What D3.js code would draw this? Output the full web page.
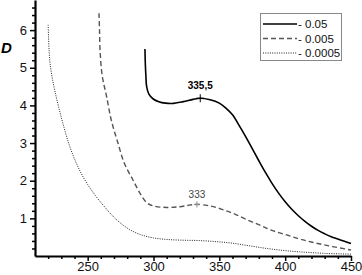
<!DOCTYPE html>
<html>
<head>
<meta charset="utf-8">
<script src="https://cdnjs.cloudflare.com/ajax/libs/d3/7.8.5/d3.min.js"></script>
<style>
  body { margin: 0; background: #fff; }
  svg { display: block; font-family: "Liberation Sans", Arial, sans-serif; }
</style>
</head>
<body>
<script>
// wavelength (nm) and optical density D
const solidX = [293.5, 293.8, 294.2, 294.8, 296.5, 299.8, 304, 309, 314, 322.6, 330, 335.5, 343, 350, 355, 360, 365, 370, 375, 380, 385, 390, 395, 400, 405, 410, 415, 420, 425, 430, 435, 440, 445, 450];
const solidY = [5.5, 5.1, 4.8, 4.5, 4.3, 4.17, 4.1, 4.06, 4.05, 4.1, 4.16, 4.19, 4.15, 4.06, 3.93, 3.75, 3.47, 3.17, 2.85, 2.53, 2.22, 1.93, 1.67, 1.44, 1.24, 1.07, 0.92, 0.79, 0.68, 0.59, 0.51, 0.45, 0.39, 0.33];

const dashX = [258.6, 259, 259.4, 261, 264.4, 268, 273, 278, 284.4, 290, 294.8, 300, 310, 320, 327, 333, 343, 352, 360.6, 370, 380.8, 390, 401.1, 412, 423.9, 436, 450];
const dashY = [6.45, 6.0, 5.47, 4.8, 4.23, 3.6, 3.0, 2.45, 2.02, 1.65, 1.42, 1.33, 1.29, 1.31, 1.35, 1.37, 1.33, 1.24, 1.13, 0.98, 0.82, 0.68, 0.56, 0.44, 0.34, 0.25, 0.16];

const dotX = [220, 220.3, 220.8, 221.5, 223, 225, 228, 232, 236, 240, 245, 250, 256, 262, 268, 274, 282, 290, 300, 310, 322, 335, 348, 360, 373, 386, 398, 411, 430, 450];
const dotY = [6.14, 5.8, 5.4, 5.1, 4.75, 4.4, 3.95, 3.42, 2.95, 2.58, 2.2, 1.9, 1.6, 1.34, 1.1, 0.9, 0.7, 0.57, 0.48, 0.44, 0.42, 0.41, 0.38, 0.34, 0.27, 0.2, 0.15, 0.11, 0.07, 0.05];

const legendLabels = ["- 0.05", "- 0.005", "- 0.0005"];
const xMajor = [250, 300, 350, 400, 450];
const yMajor = [1, 2, 3, 4, 5, 6];
const peaks = [{x: 335.5, y: 4.19, label: "335,5"}, {x: 333, y: 1.37, label: "333"}];

const w = 362, h = 275;
const svg = d3.select("body").append("svg").attr("width", w).attr("height", h);

const x = d3.scaleLinear().domain([210, 450]).range([35, 351]);
const y = d3.scaleLinear().domain([0, 6.8]).range([256, 0]);

// minor ticks
const xMinor = d3.range(220, 451, 10).filter(v => v % 50 !== 0);
const yMinor = d3.range(1, 34).map(i => +(i * 0.2).toFixed(1)).filter(v => v % 1 !== 0);

svg.append("g")
  .attr("transform", "translate(0,256)")
  .call(d3.axisBottom(x).tickValues(xMinor).tickSize(3).tickSizeOuter(0).tickFormat(""))
  .call(g => g.select(".domain").remove())
  .selectAll("line").attr("stroke-width", 1.5);

svg.append("g")
  .attr("transform", "translate(35,0)")
  .call(d3.axisLeft(y).tickValues(yMinor).tickSize(3).tickSizeOuter(0).tickFormat(""))
  .call(g => g.select(".domain").remove())
  .selectAll("line").attr("stroke-width", 1.5);

const xAxis = svg.append("g")
  .attr("id", "x-axis")
  .attr("transform", "translate(0,256)")
  .call(d3.axisBottom(x).tickValues(xMajor).tickSize(5).tickSizeOuter(0).tickPadding(1).tickFormat(d3.format("d")));
xAxis.select(".domain").attr("stroke-width", 2.2);
xAxis.selectAll("line").attr("stroke-width", 1.5);
xAxis.selectAll("text").attr("font-size", 13).attr("fill", "#111").attr("font-family", "Liberation Sans, Arial");

const yAxis = svg.append("g")
  .attr("id", "y-axis")
  .attr("transform", "translate(35,0)")
  .call(d3.axisLeft(y).tickValues(yMajor).tickSize(5).tickSizeOuter(0).tickPadding(3).tickFormat(d3.format("d")));
yAxis.select(".domain").attr("stroke-width", 2.2);
yAxis.selectAll("line").attr("stroke-width", 1.5);
yAxis.selectAll("text").attr("font-size", 13).attr("fill", "#111").attr("font-family", "Liberation Sans, Arial");

svg.append("text")
  .attr("x", 1).attr("y", 53)
  .attr("font-size", 15).attr("font-weight", "bold").attr("font-style", "italic")
  .text("D");

const line = d3.line()
  .x(d => x(d[0]))
  .y(d => y(d[1]))
  .curve(d3.curveCatmullRom.alpha(0.5));

const series = [
  {xs: solidX, ys: solidY, dash: null, color: "#000", sw: 1.6},
  {xs: dashX, ys: dashY, dash: "5,3", color: "#555", sw: 1.4},
  {xs: dotX, ys: dotY, dash: "1,1.3", color: "#222", sw: 1}
];

series.forEach(s => {
  svg.append("path")
    .datum(s.xs.map((v, i) => [v, s.ys[i]]))
    .attr("d", line)
    .attr("fill", "none")
    .attr("stroke", s.color)
    .attr("stroke-width", s.sw)
    .attr("stroke-dasharray", s.dash);
});

// peak marks
peaks.forEach((p, i) => {
  const c = i === 0 ? "#000" : "#888";
  const r = i === 0 ? 4 : 3;
  svg.append("path")
    .attr("d", `M${x(p.x) - r},${y(p.y)}H${x(p.x) + r}M${x(p.x)},${y(p.y) - r}V${y(p.y) + r}`)
    .attr("stroke", c).attr("stroke-width", 1);
  svg.append("text")
    .attr("x", x(p.x)).attr("y", y(p.y) - (i === 0 ? 9 : 6))
    .attr("text-anchor", "middle")
    .attr("font-size", 10)
    .attr("font-weight", i === 0 ? "bold" : "normal")
    .attr("fill", i === 0 ? "#000" : "#444")
    .text(p.label);
});

// legend
const lg = svg.append("g");
lg.append("rect")
  .attr("x", 260.5).attr("y", 13.5).attr("width", 81).attr("height", 47)
  .attr("fill", "#fff").attr("stroke", "#888").attr("stroke-width", 1);
legendLabels.forEach((t, i) => {
  const yy = 24 + i * 14.5;
  lg.append("line")
    .attr("x1", 263).attr("x2", 297).attr("y1", yy).attr("y2", yy)
    .attr("stroke", series[i].color)
    .attr("stroke-width", series[i].sw)
    .attr("stroke-dasharray", series[i].dash);
  lg.append("text")
    .attr("x", 298).attr("y", yy + 4)
    .attr("font-size", 11.5)
    .attr("fill", "#111")
    .text(t);
});
</script>
</body>
</html>
